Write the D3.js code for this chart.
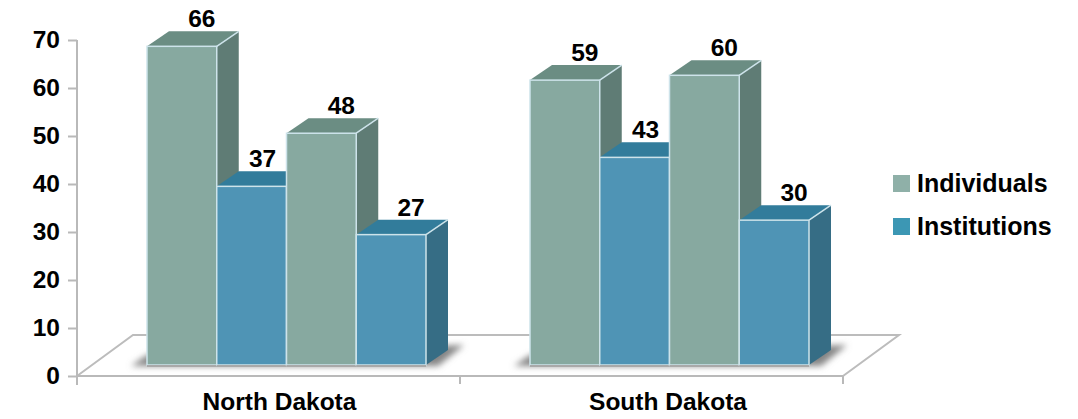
<!DOCTYPE html>
<html lang="en">
<head>
  <meta charset="UTF-8" />
  <title>Individuals and Institutions</title>
  <script src="https://d3js.org/d3.v7.min.js"></script>
  <style>
    html, body { margin: 0; background: #fff; }
    svg { display: block; }
    text { font-family: "Liberation Sans", Arial, sans-serif; font-weight: 700; fill: #000; }
    .tick-label, .value-label, .group-label { font-size: 24.5px; }
    .legend-label { font-size: 25px; }
    .axis path, .axis line { stroke: #b9b9b9; stroke-width: 2px; fill: none; }
  </style>
</head>
<body>
<svg id="chart" width="1078" height="419"></svg>
<script>
const categories = ["North Dakota", "South Dakota"];
const seriesNames = ["Individuals", "Institutions"];
const slots = ["a", "b", "c", "d"];
const barSeries = ["Individuals", "Institutions", "Individuals", "Institutions"];
const northDakota = [66, 37, 48, 27];
const southDakota = [59, 43, 60, 30];
const yTicks = [0, 10, 20, 30, 40, 50, 60, 70];

const groups = [northDakota, southDakota];

const colors = {
  Individuals: { front: "#87a9a0", top: "#6b8d83", side: "#5f7c75", legend: "#8fb0a8" },
  Institutions: { front: "#4f94b5", top: "#327c9b", side: "#366d85", legend: "#3c97b4" }
};

const svg = d3.select("#chart");

const x0 = d3.scaleBand().domain(categories).range([77, 843]);
const y = d3.scaleLinear().domain([0, 70]).range([376, 40]);
// the bars stand further back on the floor, slightly above the axis zero
const yBar = d3.scaleLinear().domain([0, 70]).range([365, 27]);
const xLabel = d3.scalePoint().domain(categories).range([279.5, 668]);

const floorDx = 56, floorDy = 41;
const depthX = 22, depthY = 15;
const barOffset = 19;

const defs = svg.append("defs");
defs.append("filter").attr("id", "blur")
  .attr("x", "-10%").attr("y", "-50%").attr("width", "120%").attr("height", "200%")
  .append("feGaussianBlur").attr("stdDeviation", 3);

// floor
const floor = svg.append("g")
  .attr("fill", "none").attr("stroke", "#bcbcbc").attr("stroke-width", 2);
const [fx0, fx1] = x0.range();
floor.append("path")
  .attr("d", `M${fx0},${y(0)} L${fx0 + floorDx},${y(0) - floorDy} L${fx1 + floorDx},${y(0) - floorDy} L${fx1},${y(0)}`);

// axes
const yAxis = d3.axisLeft(y).tickValues(yTicks).tickSize(9).tickSizeOuter(0).tickPadding(8);
const yG = svg.append("g").attr("class", "axis").attr("transform", `translate(${fx0},0)`).call(yAxis);
yG.select(".domain").attr("d", `M0,${y(70)} V${y(0) + 9}`);
yG.selectAll("text").attr("class", "tick-label").attr("dy", "0.30em");

const xEdges = [fx0, x0(categories[1]), fx1];
const xG = svg.append("g").attr("class", "axis");
xG.append("line").attr("x1", fx0).attr("x2", fx1).attr("y1", y(0)).attr("y2", y(0)).attr("stroke-width", 2.5);
xG.selectAll("line.edge").data(xEdges).enter().append("line")
  .attr("class", "edge")
  .attr("x1", d => d).attr("x2", d => d)
  .attr("y1", y(0)).attr("y2", y(0) + 8);

svg.selectAll("text.group-label")
  .data(categories)
  .enter().append("text")
  .attr("class", "group-label")
  .attr("x", d => xLabel(d))
  .attr("y", 410)
  .attr("text-anchor", "middle")
  .text(d => d);

// bars
categories.forEach((cat, gi) => {
  const x1 = d3.scaleBand().domain(slots)
    .range([x0(cat) + barOffset + 51, x0(cat) + barOffset + 51 + 279]);
  const g = svg.append("g");
  const left = x1.range()[0], right = x1.range()[1];
  const base = yBar(0);

  // soft shadow on the floor
  g.append("path")
    .attr("d", `M${left - 16},${base + 1} L${left},${base - 10} L${right + 38},${base - 20} L${right + 12},${base + 1} Z`)
    .attr("fill", "#858585")
    .attr("filter", "url(#blur)");

  groups[gi].forEach((v, i) => {
    const s = colors[barSeries[i]];
    const bx = x1(slots[i]), bw = x1.bandwidth(), by = yBar(v);
    g.append("path")
      .attr("d", `M${bx + bw},${by} l${depthX},${-depthY} V${base - depthY} L${bx + bw},${base} Z`)
      .attr("fill", s.side);
    g.append("path")
      .attr("d", `M${bx},${by} l${depthX},${-depthY} h${bw} l${-depthX},${depthY} Z`)
      .attr("fill", s.top);
    g.append("rect")
      .attr("x", bx).attr("y", by)
      .attr("width", bw).attr("height", base - by)
      .attr("fill", s.front)
      .attr("stroke", "#cde3ea").attr("stroke-width", 1.5);
    g.append("line")
      .attr("x1", bx + bw).attr("y1", by)
      .attr("x2", bx + bw + depthX).attr("y2", by - depthY)
      .attr("stroke", "#cde3ea").attr("stroke-width", 1.5);
    g.append("line")
      .attr("x1", bx).attr("x2", bx + bw).attr("y1", base + 1).attr("y2", base + 1)
      .attr("stroke", "#a9a9a9").attr("stroke-width", 2);
  });

  // value labels go last so a neighbouring bar never hides them
  g.selectAll("text.value-label")
    .data(groups[gi])
    .enter().append("text")
    .attr("class", "value-label")
    .attr("text-anchor", "middle")
    .attr("x", (d, i) => {
      const next = groups[gi][i + 1];
      const blocked = next !== undefined && next > d;
      return x1(slots[i]) + x1.bandwidth() / 2 + (blocked ? 11 : 20);
    })
    .attr("y", d => yBar(d) - 19)
    .text(d => d);
});

// legend
const legend = svg.append("g");
const legendY = d3.scalePoint().domain(seriesNames).range([184, 227]);
legend.selectAll("rect")
  .data(seriesNames)
  .enter().append("rect")
  .attr("x", 893).attr("y", d => legendY(d) - 9)
  .attr("width", 17).attr("height", 17)
  .attr("fill", d => colors[d].legend);
legend.selectAll("text")
  .data(seriesNames)
  .enter().append("text")
  .attr("class", "legend-label")
  .attr("x", 917).attr("y", d => legendY(d) + 8)
  .text(d => d);
</script>
</body>
</html>
